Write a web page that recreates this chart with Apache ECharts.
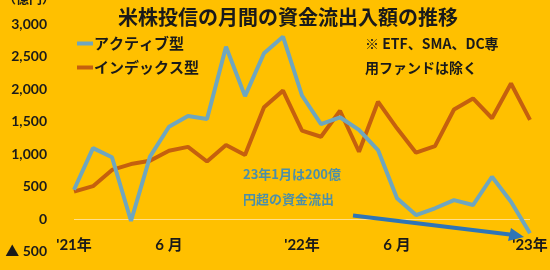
<!DOCTYPE html>
<html>
<head>
<meta charset="utf-8">
<script src="https://cdn.jsdelivr.net/npm/echarts@6/dist/echarts.min.js"></script>
<style>
  html, body { margin: 0; padding: 0; background: #FFC000; }
  #chart { width: 550px; height: 270px; }
</style>
</head>
<body>
<div id="chart"></div>
<script>
// 2021年1月〜2023年1月（月次）
const months = [
  "'21年", '2', '3', '4', '5', '6 月', '7', '8', '9', '10', '11', '12',
  "'22年", '2', '3', '4', '5', '6 月', '7', '8', '9', '10', '11', '12',
  "'23年"
];
const labelIdx = [0, 5, 12, 17, 24];

const active = [
  450, 1090, 950, -30, 960, 1420, 1585, 1540, 2650, 1890, 2550, 2805,
  1900, 1460, 1565, 1370, 1060, 320, 60, 165, 290, 215, 650, 265,
  -220
];
const index = [
  420, 505, 755, 845, 895, 1050, 1110, 885, 1140, 985, 1720, 1975,
  1360, 1265, 1665, 1035, 1805, 1395, 1020, 1120, 1685, 1855, 1550, 2085,
  1525
];

const yTicks = { min: -500, max: 3000, step: 500 };

const numFont = 'Lato, "Noto Sans CJK JP", sans-serif';
const jpFont = '"Noto Sans CJK JP", sans-serif';

const chart = echarts.init(document.getElementById('chart'));

const option = {
  backgroundColor: '#FFC000',
  animation: false,
  title: {
    text: '米株投信の月間の資金流出入額の推移',
    left: 283,
    textAlign: 'center',
    top: 2,
    textStyle: { fontFamily: jpFont, fontSize: 20, fontWeight: 'bold', color: '#1a1a1a' }
  },
  legend: {
    orient: 'vertical',
    left: 72,
    top: 31,
    itemGap: 9,
    itemWidth: 16,
    itemHeight: 4,
    icon: 'rect',
    textStyle: { fontFamily: jpFont, fontSize: 15, fontWeight: 'bold', color: '#1a1a1a', padding: [0, 0, 0, -4] },
    data: ['アクティブ型', 'インデックス型']
  },
  grid: { left: 74, right: 20, top: 24, bottom: 18.5, outerBoundsMode: 'none' },
  xAxis: {
    type: 'category',
    data: months,
    boundaryGap: false,
    axisLine: { show: false, onZero: false },
    axisTick: { show: false },
    axisLabel: {
      interval: (i) => labelIdx.includes(i),
      margin: -14,
      fontFamily: numFont,
      fontSize: 15,
      fontWeight: 'bold',
      color: '#1a1a1a'
    },
    splitLine: { show: false }
  },
  yAxis: {
    type: 'value',
    min: yTicks.min,
    max: yTicks.max,
    interval: yTicks.step,
    axisLine: { show: false },
    axisTick: { show: false },
    splitLine: { show: false },
    axisLabel: {
      margin: 27,
      fontFamily: numFont,
      fontSize: 14,
      fontWeight: 'bold',
      color: '#1a1a1a',
      formatter: (v) => v < 0 ? '▲ ' + Math.abs(v) : v.toLocaleString('en-US')
    }
  },
  series: [
    {
      name: 'アクティブ型',
      type: 'line',
      data: active,
      symbol: 'none',
      color: '#6FA6BE',
      lineStyle: { width: 4, color: '#6FA6BE' },
      z: 3,
      markLine: {
        silent: true,
        symbol: 'none',
        label: { show: false },
        lineStyle: { type: 'solid', color: '#FFE08C', width: 1 },
        data: [{ yAxis: 0 }],
        z: 1
      }
    },
    {
      name: 'インデックス型',
      type: 'line',
      data: index,
      symbol: 'none',
      color: '#C5600E',
      lineStyle: { width: 4, color: '#C5600E' },
      z: 2
    }
  ],
  graphic: [
    {
      type: 'text', left: 365, top: 37,
      style: { text: '※ ETF、SMA、DC専', font: 'bold 14px ' + jpFont, fill: '#1a1a1a' }
    },
    {
      type: 'text', left: 365, top: 61,
      style: { text: '用ファンドは除く', font: 'bold 14px ' + jpFont, fill: '#1a1a1a' }
    },
    {
      type: 'text', left: 243, top: 168,
      style: { text: '23年1月は200億', font: 'bold 13px ' + jpFont, fill: '#4C8FA8' }
    },
    {
      type: 'text', left: 243, top: 193,
      style: { text: '円超の資金流出', font: 'bold 13px ' + jpFont, fill: '#4C8FA8' }
    },
    {
      type: 'line', z: 10,
      shape: { x1: 353, y1: 215.5, x2: 514, y2: 235 },
      style: { stroke: '#2E75B6', lineWidth: 4 }
    },
    {
      type: 'polygon', z: 10,
      shape: { points: [[524, 237], [511, 228], [508, 241]] },
      style: { fill: '#2E75B6' }
    },
    {
      type: 'text', left: 3, top: -8,
      style: { text: '（億円）', font: 'bold 13px ' + jpFont, fill: '#1a1a1a' }
    }
  ]
};

chart.setOption(option);
</script>
</body>
</html>
